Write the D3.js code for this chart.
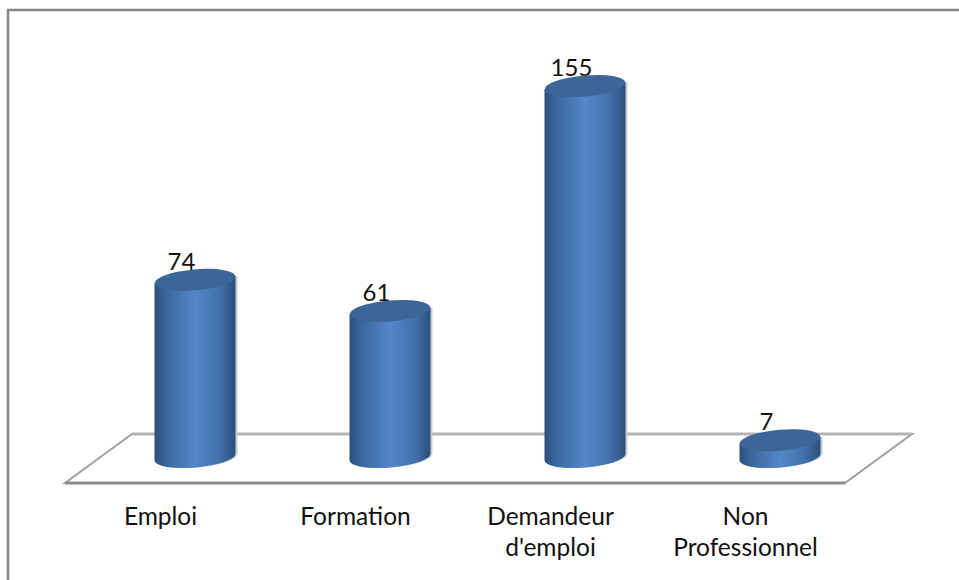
<!DOCTYPE html>
<html>
<head>
<meta charset="utf-8">
<script src="https://cdn.jsdelivr.net/npm/d3@7"></script>
<style>
  html, body { margin: 0; padding: 0; background: #fff; }
  svg { display: block; }
  .tick text { font-family: Lato, "Open Sans", sans-serif; font-size: 24.5px; fill: #111; }
  .value { font-family: Lato, "Open Sans", sans-serif; font-size: 24px; fill: #111; text-anchor: middle; }
</style>
</head>
<body>
<svg id="chart" width="959" height="580"></svg>
<script>
"use strict";
var categories = ["Emploi", "Formation", "Demandeur d'emploi", "Non Professionnel"];
var labelLines = [["Emploi"], ["Formation"], ["Demandeur", "d'emploi"], ["Non", "Professionnel"]];
var values = [74, 61, 155, 7];

var width = 959, height = 580;
var svg = d3.select("#chart");

// scales
var x = d3.scaleBand().domain(categories).range([65, 845]);
var y = d3.scaleLinear().domain([0, 155]).range([457, 86]);

var depth = 67;      // floor shift to the back
var floorFront = 483, floorBack = 434;
var barW = 81, rx = barW / 2, ry = 10.5, tilt = -5;
var dy = rx * Math.sin(tilt * Math.PI / 180);

// gradient for the cylinder body
var defs = svg.append("defs");
var grad = defs.append("linearGradient").attr("id", "body");
[["0%", "#2b4f7c"], ["14%", "#39669c"], ["50%", "#5487c9"], ["80%", "#4272ac"], ["100%", "#2c4f7b"]].forEach(function(s) {
  grad.append("stop").attr("offset", s[0]).attr("stop-color", s[1]);
});

// frame
svg.append("path")
  .attr("d", "M8,580V10H" + width)
  .attr("fill", "none")
  .attr("stroke", "#868686")
  .attr("stroke-width", 2.5);

// floor
svg.append("path")
  .attr("d", "M" + x.range()[0] + "," + floorFront + "L" + (x.range()[0] + depth) + "," + floorBack +
             "H" + (x.range()[1] + depth) + "L" + x.range()[1] + "," + floorFront + "Z")
  .attr("fill", "#fff")
  .attr("stroke", "#a0a0a0")
  .attr("stroke-width", 2);
svg.append("line")
  .attr("x1", x.range()[0] + depth).attr("x2", x.range()[1] + depth)
  .attr("y1", floorBack).attr("y2", floorBack)
  .attr("stroke", "#b4b4b4").attr("stroke-width", 3);
svg.append("line")
  .attr("x1", x.range()[0]).attr("x2", x.range()[1])
  .attr("y1", floorFront).attr("y2", floorFront)
  .attr("stroke", "#8c8c8c").attr("stroke-width", 3);

// value labels
svg.selectAll(".value")
  .data(values)
  .enter().append("text")
  .attr("class", "value")
  .attr("x", function(d, i) { return x(categories[i]) + x.bandwidth() / 2 + 19; })
  .attr("y", function(d) { return y(d) - 10; })
  .text(function(d) { return d; });

// cylinders
var bars = svg.selectAll(".bar")
  .data(values)
  .enter().append("g")
  .attr("class", "bar")
  .attr("transform", function(d, i) {
    return "translate(" + (x(categories[i]) + x.bandwidth() / 2 + depth / 2 - 1) + ",0)";
  });

function side(d, off) {
  return "M" + (-rx + off) + "," + (y(d) - dy) +
    "V" + (y(0) - dy) +
    "A" + rx + "," + ry + "," + tilt + ",0,0," + (rx + off) + "," + (y(0) + dy) +
    "V" + (y(d) + dy) + "Z";
}

bars.append("path")
  .attr("d", function(d) { return side(d, 2); })
  .attr("fill", "#c9cdd1");

bars.append("path")
  .attr("d", function(d) { return side(d, 0); })
  .attr("fill", "url(#body)");

bars.append("ellipse")
  .attr("rx", rx)
  .attr("ry", ry)
  .attr("transform", function(d) { return "translate(0," + y(d) + ") rotate(" + tilt + ")"; })
  .attr("fill", "#3c6697");

// category axis, on its own below the floor
var axis = svg.append("g")
  .attr("transform", "translate(-2," + floorFront + ")")
  .call(d3.axisBottom(x).tickSize(0).tickPadding(0));
axis.select(".domain").remove();
axis.selectAll(".tick text")
  .attr("y", 0)
  .attr("dy", null)
  .attr("fill", null)
  .text(null)
  .each(function(d, i) {
    var t = d3.select(this);
    labelLines[i].forEach(function(line, k) {
      t.append("tspan")
        .attr("x", 0)
        .attr("y", 42 + k * 31)
        .text(line);
    });
  });
</script>
</body>
</html>
